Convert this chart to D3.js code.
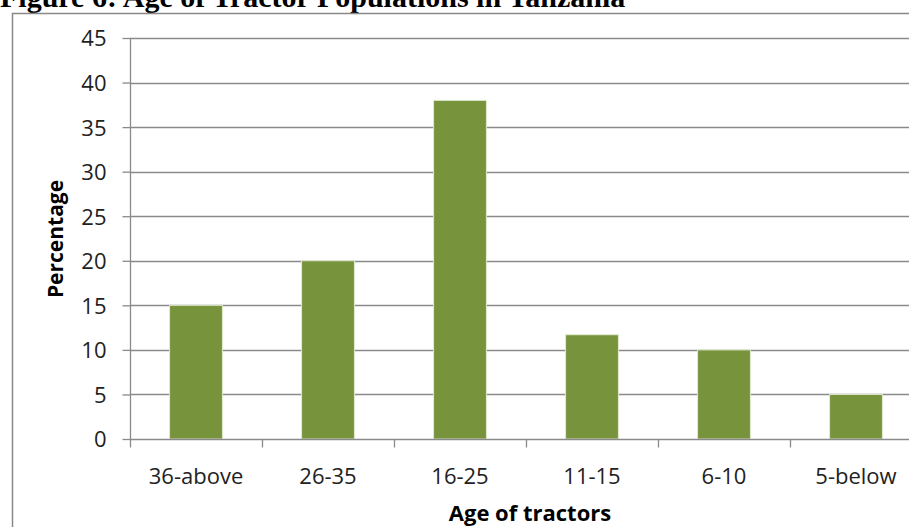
<!DOCTYPE html>
<html>
<head>
<meta charset="utf-8">
<script src="https://cdn.jsdelivr.net/npm/d3@7"></script>
<style>
  html, body { margin: 0; padding: 0; background: #fff; overflow: hidden; }
  svg { display: block; }
</style>
</head>
<body>
<svg id="chart" width="909" height="527"></svg>
<script>
// Share of tractors by age band (years)
const categories = ["36-above", "26-35", "16-25", "11-15", "6-10", "5-below"];
const percentages = [15, 20, 38, 11.7, 10, 5];
const yTicks = [0, 5, 10, 15, 20, 25, 30, 35, 40, 45];

const titleText = "Figure 6: Age of Tractor Populations in Tanzania";
const yTitle = "Percentage";
const xTitle = "Age of tractors";

const svg = d3.select("#chart");

const plot = { left: 130, top: 38, right: 922, bottom: 439 };

const x = d3.scaleBand()
  .domain(categories)
  .range([plot.left, plot.right])
  .paddingInner(0.6)
  .paddingOuter(0.3);

const y = d3.scaleLinear().domain([0, 45]).range([plot.bottom, plot.top]);

const grid = "#8a8a8a";
const labelFont = "'Open Sans', sans-serif";

// Figure caption above the chart frame
svg.append("text")
  .attr("x", 0)
  .attr("y", 7)
  .attr("font-family", "'Liberation Serif', 'Times New Roman', serif")
  .attr("font-weight", "bold")
  .attr("font-size", 30)
  .attr("fill", "#000")
  .text(titleText);

// Chart frame
svg.append("rect")
  .attr("x", 12.5)
  .attr("y", 13.5)
  .attr("width", 960)
  .attr("height", 560)
  .attr("fill", "#fff")
  .attr("stroke", "#888")
  .attr("stroke-width", 1.5);

// Horizontal gridlines
svg.append("g")
  .selectAll("line")
  .data(yTicks.filter(d => d > 0))
  .join("line")
  .attr("x1", plot.left)
  .attr("x2", plot.right)
  .attr("y1", d => Math.round(y(d)) + 0.5)
  .attr("y2", d => Math.round(y(d)) + 0.5)
  .attr("stroke", grid)
  .attr("stroke-width", 1.3);

// Bars
svg.append("g")
  .selectAll("rect")
  .data(categories.map((c, i) => ({ c, v: percentages[i] })))
  .join("rect")
  .attr("x", d => x(d.c))
  .attr("y", d => y(d.v))
  .attr("width", x.bandwidth())
  .attr("height", d => y(0) - y(d.v))
  .attr("fill", "#77933c")
  .attr("stroke", "#dfe9cc")
  .attr("stroke-width", 1);

// Y axis
const yAxis = svg.append("g")
  .attr("transform", `translate(${plot.left + 0.5},0)`)
  .call(d3.axisLeft(y).tickValues(yTicks).tickSize(8).tickPadding(16).tickFormat(d3.format("d")));
yAxis.select(".domain").attr("stroke", grid).attr("stroke-width", 1.3)
  .attr("d", `M0,${plot.top}V${plot.bottom}`);
yAxis.selectAll(".tick line").attr("stroke", grid).attr("stroke-width", 1.3);
yAxis.selectAll(".tick text")
  .attr("font-family", labelFont)
  .attr("font-size", 22)
  .attr("fill", "#222")
  .attr("dy", "0.36em");

// X axis with tick marks on band boundaries
const xAxisG = svg.append("g").attr("transform", `translate(0,${plot.bottom + 0.5})`);
xAxisG.append("line")
  .attr("x1", plot.left).attr("x2", plot.right)
  .attr("stroke", grid).attr("stroke-width", 1.3);
const bounds = d3.range(categories.length + 1).map(i => plot.left + i * (plot.right - plot.left) / categories.length);
xAxisG.selectAll("line.tk")
  .data(bounds)
  .join("line")
  .attr("class", "tk")
  .attr("x1", d => Math.round(d) + 0.5)
  .attr("x2", d => Math.round(d) + 0.5)
  .attr("y1", 0)
  .attr("y2", 8)
  .attr("stroke", grid)
  .attr("stroke-width", 1.3);
xAxisG.selectAll("text")
  .data(categories)
  .join("text")
  .attr("x", d => x(d) + x.bandwidth() / 2)
  .attr("y", 44)
  .attr("text-anchor", "middle")
  .attr("font-family", labelFont)
  .attr("font-size", 22)
  .attr("fill", "#222")
  .text(d => d);

// Axis titles
svg.append("text")
  .attr("transform", `translate(63,239) rotate(-90)`)
  .attr("text-anchor", "middle")
  .attr("font-family", labelFont)
  .attr("font-weight", "bold")
  .attr("font-size", 21)
  .attr("fill", "#000")
  .text(yTitle);

svg.append("text")
  .attr("x", 530)
  .attr("y", 521)
  .attr("text-anchor", "middle")
  .attr("font-family", labelFont)
  .attr("font-weight", "bold")
  .attr("font-size", 22)
  .attr("fill", "#000")
  .text(xTitle);
</script>
</body>
</html>
